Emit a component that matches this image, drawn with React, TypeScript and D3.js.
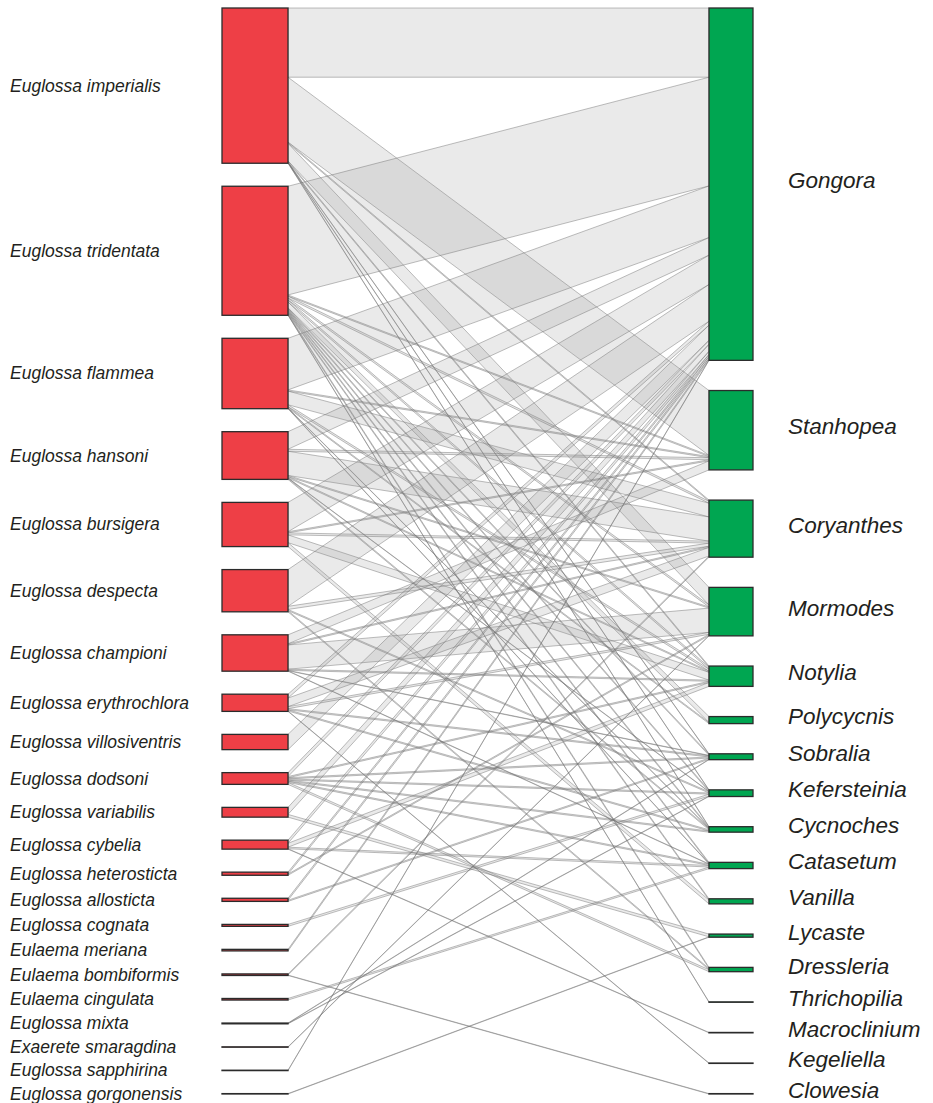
import React, { useMemo } from 'react';
import * as d3 from 'd3';

// bee species (left column), top to bottom
const bees = [
  'Euglossa imperialis', 'Euglossa tridentata', 'Euglossa flammea', 'Euglossa hansoni',
  'Euglossa bursigera', 'Euglossa despecta', 'Euglossa championi', 'Euglossa erythrochlora',
  'Euglossa villosiventris', 'Euglossa dodsoni', 'Euglossa variabilis', 'Euglossa cybelia',
  'Euglossa heterosticta', 'Euglossa allosticta', 'Euglossa cognata', 'Eulaema meriana',
  'Eulaema bombiformis', 'Eulaema cingulata', 'Euglossa mixta', 'Exaerete smaragdina',
  'Euglossa sapphirina', 'Euglossa gorgonensis',
];

// orchid genera (right column), top to bottom
const plants = [
  'Gongora', 'Stanhopea', 'Coryanthes', 'Mormodes', 'Notylia', 'Polycycnis', 'Sobralia',
  'Kefersteinia', 'Cycnoches', 'Catasetum', 'Vanilla', 'Lycaste', 'Dressleria',
  'Thrichopilia', 'Macroclinium', 'Kegeliella', 'Clowesia',
];

// visits[bee][plant], columns in the order of `plants`
const visits = [
  [177, 166, 3, 45, 3, 0, 1, 1, 1, 0, 0, 0, 0, 0, 0, 0, 0],
  [278, 3, 5, 5, 5, 15, 3, 3, 3, 3, 3, 0, 3, 1, 0, 0, 0],
  [132, 3, 35, 0, 5, 3, 0, 0, 1, 1, 0, 0, 0, 0, 0, 0, 0],
  [45, 5, 62, 3, 3, 0, 0, 1, 3, 0, 0, 0, 0, 0, 0, 0, 0],
  [75, 3, 5, 0, 20, 0, 0, 0, 0, 0, 10, 0, 0, 0, 0, 0, 0],
  [94, 0, 8, 0, 0, 0, 0, 3, 0, 0, 0, 0, 3, 0, 0, 0, 0],
  [0, 23, 3, 62, 3, 0, 1, 0, 0, 1, 0, 0, 0, 0, 0, 0, 0],
  [10, 0, 22, 5, 0, 0, 3, 0, 3, 0, 0, 0, 0, 0, 0, 1, 0],
  [39, 0, 0, 0, 0, 0, 0, 0, 0, 0, 0, 0, 0, 0, 0, 0, 0],
  [10, 0, 0, 0, 3, 0, 3, 3, 3, 3, 0, 0, 5, 0, 0, 0, 0],
  [18, 0, 0, 0, 0, 0, 0, 0, 0, 0, 0, 7, 0, 0, 0, 0, 0],
  [8, 0, 0, 0, 10, 0, 0, 0, 0, 4, 0, 0, 0, 0, 1, 0, 0],
  [5, 0, 0, 3, 0, 0, 0, 0, 0, 0, 0, 0, 0, 0, 0, 0, 0],
  [5, 0, 0, 0, 0, 0, 3, 0, 0, 0, 0, 0, 0, 0, 0, 0, 0],
  [0, 0, 0, 0, 0, 0, 0, 5, 0, 0, 0, 0, 0, 0, 0, 0, 0],
  [4, 0, 0, 0, 0, 0, 0, 0, 0, 0, 0, 0, 0, 0, 0, 0, 0],
  [0, 0, 3, 0, 0, 0, 0, 0, 0, 0, 0, 0, 0, 0, 0, 0, 1],
  [0, 0, 0, 0, 0, 0, 0, 0, 0, 4, 0, 0, 0, 0, 0, 0, 0],
  [0, 0, 0, 0, 0, 0, 1, 1, 0, 0, 0, 0, 0, 0, 0, 0, 0],
  [0, 0, 0, 1, 0, 0, 0, 0, 0, 0, 0, 0, 0, 0, 0, 0, 0],
  [1, 0, 0, 0, 0, 0, 0, 0, 0, 0, 0, 0, 0, 0, 0, 0, 0],
  [0, 0, 0, 0, 0, 0, 0, 0, 0, 0, 0, 1, 0, 0, 0, 0, 0],
];

const W = 933;
const H = 1103;
const top = 8;
const bottom = 1094;
const gapLeft = 23;
const leftBox = [222, 288];
const rightBox = [709, 753];

const App: React.FC = () => {
  const layout = useMemo(() => {
    const beeTotals = visits.map(r => d3.sum(r));
    const plantTotals = plants.map((_, j) => d3.sum(visits, r => r[j]));
    const total = d3.sum(beeTotals);
    const span = bottom - top;
    const k = (span - (bees.length - 1) * gapLeft) / total;
    const size = d3.scaleLinear().domain([0, total]).range([0, total * k]);
    const gapRight = (span - size(total)) / (plants.length - 1);

    // stack the boxes down each column
    const stack = (totals: number[], gap: number) => {
      let y = top;
      return totals.map(t => {
        const y0 = y;
        y += size(t) + gap;
        return { y0, h: size(t) };
      });
    };
    const beeNodes = stack(beeTotals, gapLeft);
    const plantNodes = stack(plantTotals, gapRight);

    // link ends: on the left ordered by plant, on the right ordered by bee
    const leftCursor = beeNodes.map(n => n.y0);
    const rightCursor = plantNodes.map(n => n.y0);
    const rightStart: number[][] = visits.map(() => plants.map(() => 0));
    plants.forEach((_, j) => {
      visits.forEach((r, i) => {
        if (r[j] > 0) {
          rightStart[i][j] = rightCursor[j];
          rightCursor[j] += size(r[j]);
        }
      });
    });
    const links: { d: string; key: string }[] = [];
    visits.forEach((r, i) => {
      r.forEach((v, j) => {
        if (v <= 0) return;
        const w = size(v);
        const ly = leftCursor[i];
        leftCursor[i] += w;
        const ry = rightStart[i][j];
        const p = d3.path();
        p.moveTo(leftBox[1], ly);
        p.lineTo(rightBox[0], ry);
        p.lineTo(rightBox[0], ry + w);
        p.lineTo(leftBox[1], ly + w);
        p.closePath();
        links.push({ d: p.toString(), key: `${i}-${j}` });
      });
    });
    return { beeNodes, plantNodes, links };
  }, []);

  return (
    <svg width={W} height={H} style={{ position: 'absolute', left: 0, top: 0, background: '#fff' }}>
      <g>
        {layout.links.map(l => (
          <path key={l.key} d={l.d} fill="rgba(150,150,150,0.2)" stroke="rgba(110,110,110,0.5)" strokeWidth={0.9} />
        ))}
      </g>
      <g>
        {layout.beeNodes.map((n, i) => (
          <rect key={bees[i]} x={leftBox[0]} y={n.y0} width={leftBox[1] - leftBox[0]} height={n.h}
            fill="#ee3f46" stroke="#2b2b2b" strokeWidth={1.3} />
        ))}
        {layout.plantNodes.map((n, j) => (
          <rect key={plants[j]} x={rightBox[0]} y={n.y0} width={rightBox[1] - rightBox[0]} height={n.h}
            fill="#00a651" stroke="#2b2b2b" strokeWidth={1.3} />
        ))}
      </g>
      <g fontFamily="'Liberation Sans', Arial, sans-serif" fontStyle="italic" fill="#231f20">
        {layout.beeNodes.map((n, i) => (
          <text key={bees[i]} x={10} y={n.y0 + n.h / 2 + 6} fontSize={17.5}>{bees[i]}</text>
        ))}
        {layout.plantNodes.map((n, j) => (
          <text key={plants[j]} x={788} y={n.y0 + n.h / 2 + 4} fontSize={22.5}>{plants[j]}</text>
        ))}
      </g>
    </svg>
  );
};

export default App;
